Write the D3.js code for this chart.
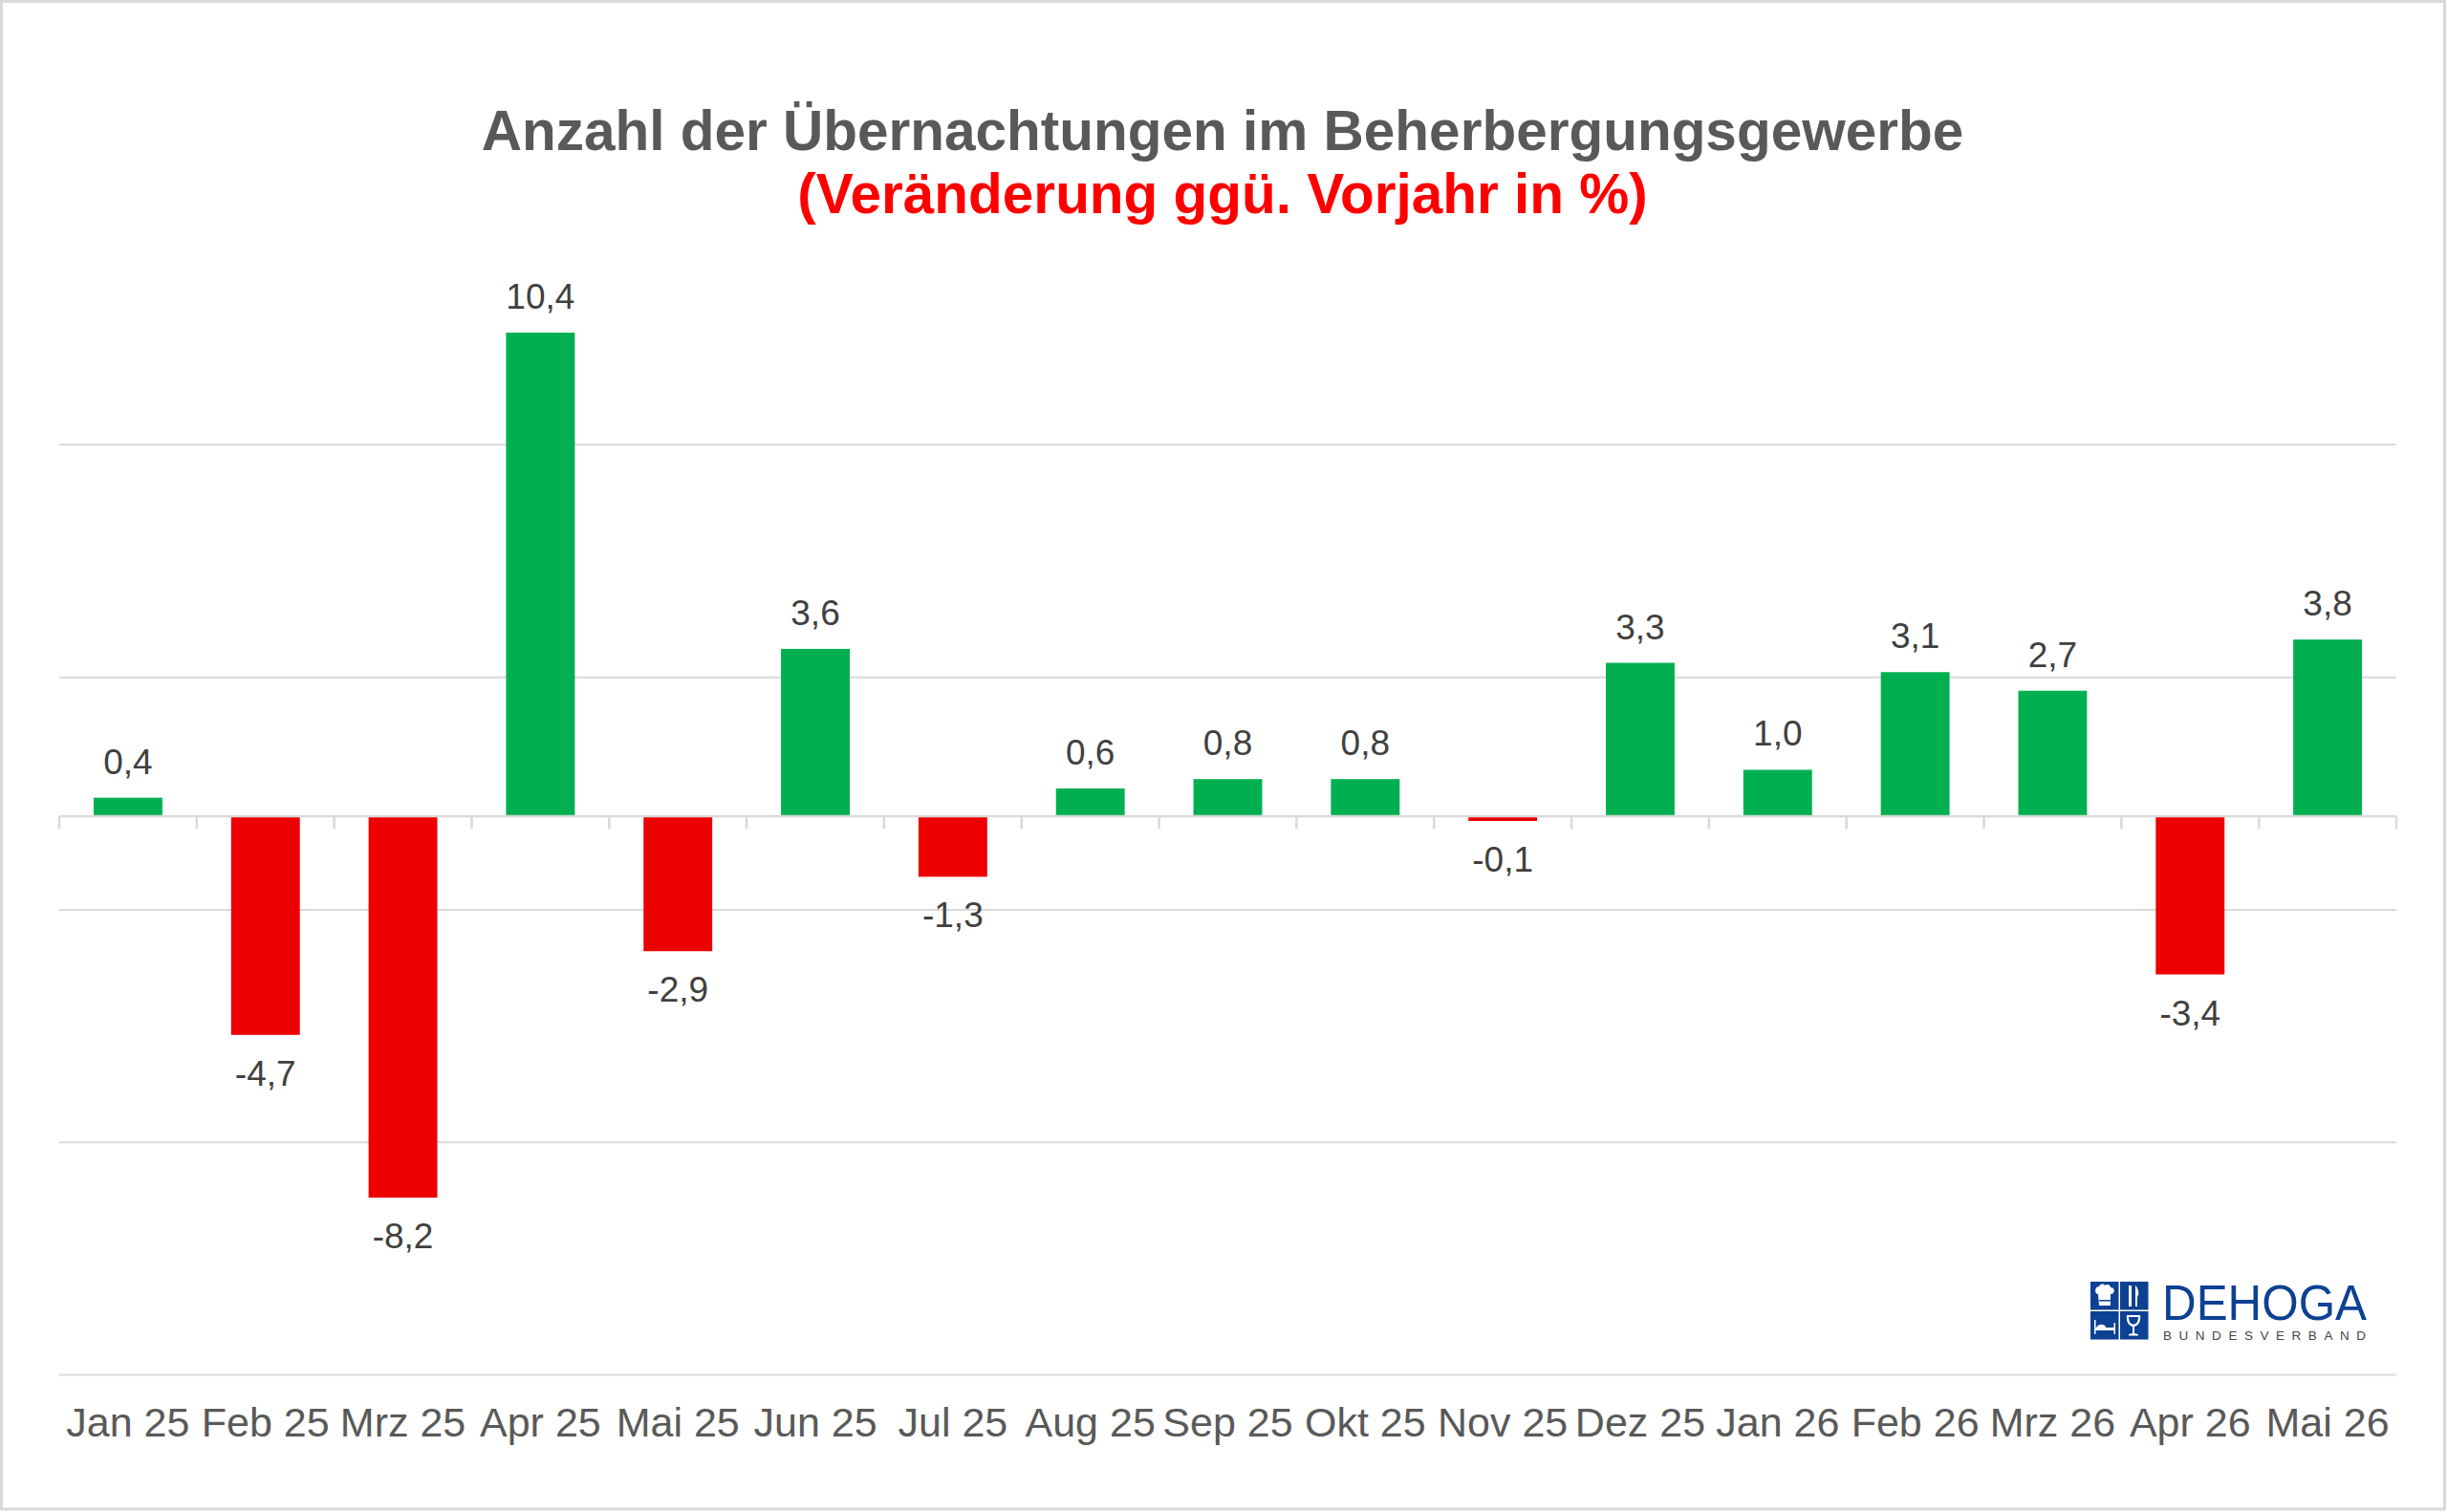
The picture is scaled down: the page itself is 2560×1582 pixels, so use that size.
<!DOCTYPE html>
<html>
<head>
<meta charset="utf-8">
<script src="https://cdn.jsdelivr.net/npm/d3@7"></script>
<style>
  html, body { margin: 0; padding: 0; background: #fff; }
  svg { display: block; }
  text { font-family: "Liberation Sans", Arial, sans-serif; }
</style>
</head>
<body>
<svg id="chart"></svg>
<script>
// Daten
var months = ['Jan 25', 'Feb 25', 'Mrz 25', 'Apr 25', 'Mai 25', 'Jun 25', 'Jul 25', 'Aug 25',
  'Sep 25', 'Okt 25', 'Nov 25', 'Dez 25', 'Jan 26', 'Feb 26', 'Mrz 26', 'Apr 26', 'Mai 26'];
var changes = [0.4, -4.7, -8.2, 10.4, -2.9, 3.6, -1.3, 0.6, 0.8, 0.8, -0.1, 3.3, 1.0, 3.1, 2.7, -3.4, 3.8];
var gridValues = [-12, -7, -2, 3, 8];
var yDomain = [-12, 12];

var title = 'Anzahl der Übernachtungen im Beherbergungsgewerbe';
var subtitle = '(Veränderung ggü. Vorjahr in %)';

var W = 2560, H = 1582;
var plot = { left: 62, right: 2507, top: 270.2, bottom: 1438 };

var svg = d3.select('#chart')
  .attr('width', W)
  .attr('height', H);

// Rahmen
svg.append('rect')
  .attr('x', 1.5).attr('y', 1.5)
  .attr('width', W - 4).attr('height', H - 4.5)
  .attr('fill', '#fff')
  .attr('stroke', '#d9d9d9')
  .attr('stroke-width', 3);

// Skalen
var x = d3.scaleBand()
  .domain(months)
  .range([plot.left, plot.right])
  .paddingInner(0.5)
  .paddingOuter(0.25);

var y = d3.scaleLinear()
  .domain(yDomain)
  .range([plot.bottom, plot.top]);

// Gitterlinien
svg.append('g')
  .attr('transform', 'translate(' + plot.left + ',0)')
  .call(d3.axisLeft(y).tickValues(gridValues).tickSize(-(plot.right - plot.left)).tickFormat(''))
  .call(function(g) {
    g.select('.domain').remove();
    g.selectAll('.tick line').attr('stroke', '#d9d9d9').attr('stroke-width', 2);
  });

// Titel
svg.append('text')
  .attr('x', 1279).attr('y', 157)
  .attr('text-anchor', 'middle')
  .attr('font-size', 58.5)
  .attr('font-weight', 'bold')
  .attr('fill', '#595959')
  .text(title);

svg.append('text')
  .attr('x', 1279).attr('y', 223)
  .attr('text-anchor', 'middle')
  .attr('font-size', 58.5)
  .attr('font-weight', 'bold')
  .attr('fill', '#ff0000')
  .text(subtitle);

// Balken
var rows = months.map(function(m, i) { return { month: m, value: changes[i] }; });

svg.append('g')
  .selectAll('rect')
  .data(rows)
  .join('rect')
  .attr('x', function(d) { return x(d.month); })
  .attr('width', x.bandwidth())
  .attr('y', function(d) { return y(Math.max(0, d.value)); })
  .attr('height', function(d) { return Math.abs(y(d.value) - y(0)); })
  .attr('fill', function(d) { return d.value >= 0 ? '#00b050' : '#ee0000'; });

// Nulllinie mit Teilstrichen
var step = x.step();
var boundaries = d3.range(months.length + 1).map(function(i) { return plot.left + i * step; });

var axisG = svg.append('g');
axisG.append('line')
  .attr('x1', plot.left).attr('x2', plot.right)
  .attr('y1', y(0)).attr('y2', y(0))
  .attr('stroke', '#d9d9d9')
  .attr('stroke-width', 2.5);
axisG.selectAll('line.tick')
  .data(boundaries)
  .join('line')
  .attr('class', 'tick')
  .attr('x1', function(d) { return d; }).attr('x2', function(d) { return d; })
  .attr('y1', y(0)).attr('y2', y(0) + 13)
  .attr('stroke', '#d9d9d9')
  .attr('stroke-width', 2.5);

// Datenbeschriftungen
var fmt = function(v) { return d3.format('.1f')(v).replace('.', ',').replace('\u2212', '-'); };

svg.append('g')
  .selectAll('text')
  .data(rows)
  .join('text')
  .attr('x', function(d) { return x(d.month) + x.bandwidth() / 2; })
  .attr('y', function(d) { return d.value >= 0 ? y(d.value) - 25 : y(d.value) + 53; })
  .attr('text-anchor', 'middle')
  .attr('font-size', 37)
  .attr('fill', '#404040')
  .text(function(d) { return fmt(d.value); });

// Kategorienbeschriftungen
svg.append('g')
  .selectAll('text')
  .data(months)
  .join('text')
  .attr('x', function(d) { return x(d) + x.bandwidth() / 2; })
  .attr('y', 1503)
  .attr('text-anchor', 'middle')
  .attr('font-size', 43)
  .attr('fill', '#595959')
  .text(function(d) { return d; });

// Logo
var blue = '#0c4193';
var logo = svg.append('g').attr('transform', 'translate(2187,1341)');
var cell = 29.5, gap = 1.5;
[[0, 0], [1, 0], [0, 1], [1, 1]].forEach(function(p) {
  logo.append('rect')
    .attr('x', p[0] * (cell + gap)).attr('y', p[1] * (cell + gap))
    .attr('width', cell).attr('height', cell)
    .attr('fill', blue);
});
// Kochmütze
logo.append('path')
  .attr('d', 'M8,13 C4,13 4,5 9,5 C10,2 14,2 15,4 C17,2 21,3 21,6 C26,6 26,13 21,13 L21,25 L9,25 Z')
  .attr('fill', '#fff');
logo.append('rect').attr('x', 9).attr('y', 19).attr('width', 12).attr('height', 1.5).attr('fill', blue);
// Besteck
logo.append('rect').attr('x', 40).attr('y', 4).attr('width', 3).attr('height', 22).attr('fill', '#fff');
logo.append('path').attr('d', 'M47,4 C51,8 51,14 49,16 L49,26 L47,26 Z').attr('fill', '#fff');
// Bett
logo.append('rect').attr('x', 4).attr('y', 40).attr('width', 1.5).attr('height', 15).attr('fill', '#fff');
logo.append('rect').attr('x', 24.5).attr('y', 43).attr('width', 1.5).attr('height', 12).attr('fill', '#fff');
logo.append('rect').attr('x', 4).attr('y', 48).attr('width', 22).attr('height', 3).attr('fill', '#fff');
logo.append('path').attr('d', 'M6,48 C9,44 13,44 16,47 L16,48 Z').attr('fill', '#fff');
// Weinglas
logo.append('path')
  .attr('d', 'M38,35 L52,35 C53,42 50,46 46,47 L46,54 L50,55 L50,56.5 L40,56.5 L40,55 L44,54 L44,47 C40,46 37,42 38,35 Z')
  .attr('fill', '#fff');
logo.append('path')
  .attr('d', 'M40,37 L50,37 C50,42 48,44.5 45,44.5 C42,44.5 40,42 40,37 Z')
  .attr('fill', blue);

svg.append('text')
  .attr('x', 2262).attr('y', 1381)
  .attr('font-size', 52)
  .attr('fill', blue)
  .attr('textLength', 214)
  .attr('lengthAdjust', 'spacingAndGlyphs')
  .text('DEHOGA');

svg.append('text')
  .attr('x', 2263).attr('y', 1402)
  .attr('font-size', 13.5)
  .attr('fill', '#444')
  .attr('textLength', 212)
  .attr('lengthAdjust', 'spacing')
  .text('BUNDESVERBAND');
</script>
</body>
</html>
